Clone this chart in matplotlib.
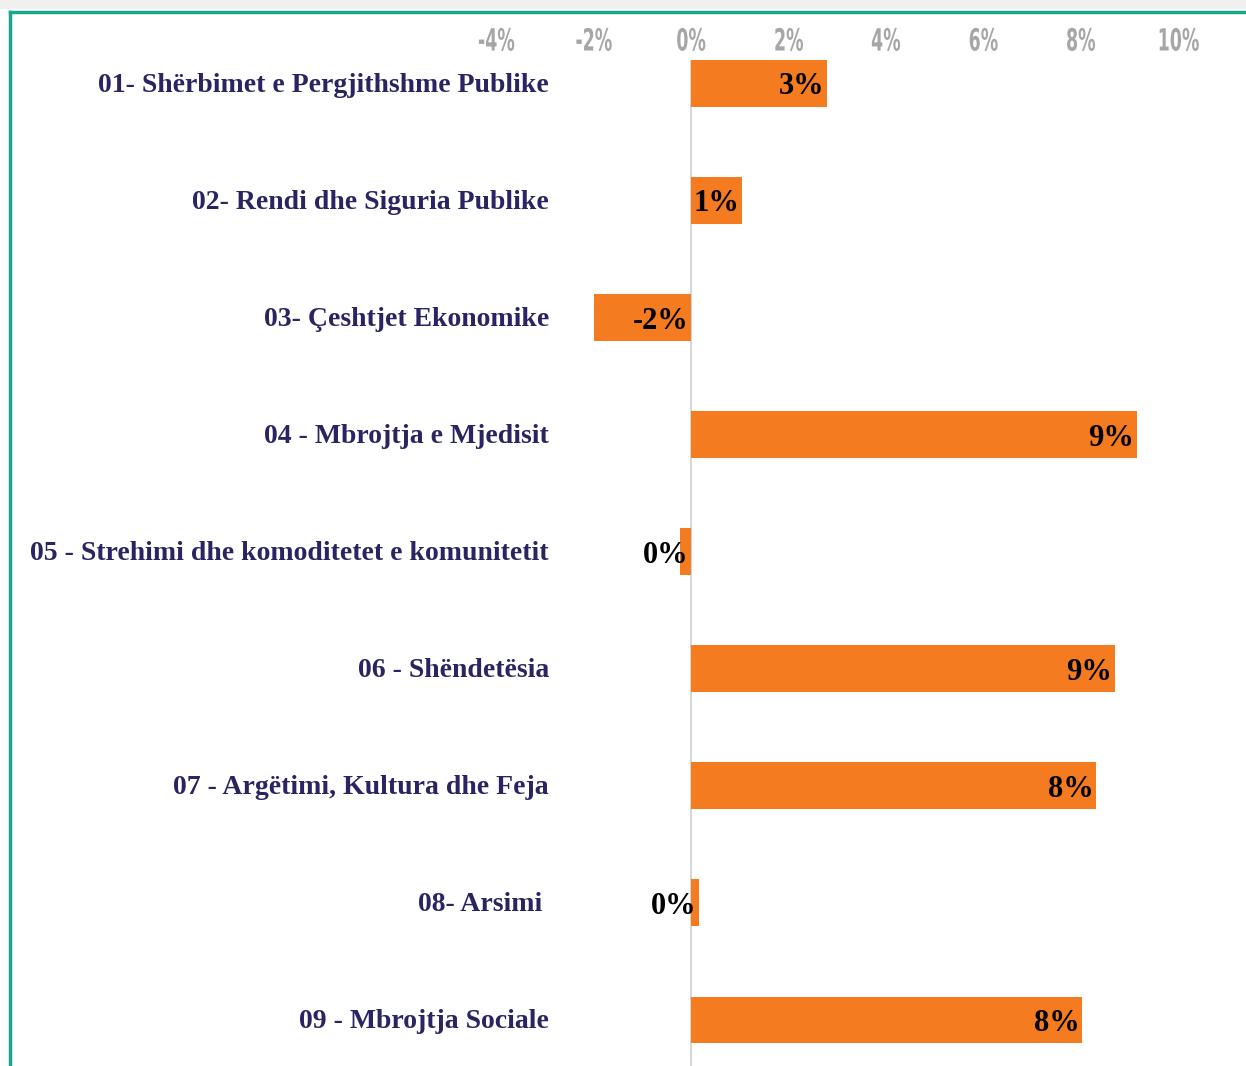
import matplotlib
matplotlib.use("Agg")
import matplotlib.pyplot as plt
import matplotlib.transforms as mtransforms
from matplotlib.lines import Line2D
from matplotlib.patches import Rectangle
from matplotlib.patheffects import AbstractPathEffect
from matplotlib.transforms import Affine2D

categories = [
    "01- Shërbimet e Pergjithshme Publike",
    "02- Rendi dhe Siguria Publike",
    "03- Çeshtjet Ekonomike",
    "04 - Mbrojtja e Mjedisit",
    "05 - Strehimi dhe komoditetet e komunitetit",
    "06 - Shëndetësia",
    "07 - Argëtimi, Kultura dhe Feja",
    "08- Arsimi ",
    "09 - Mbrojtja Sociale",
]
values = [2.8, 1.05, -2.0, 9.15, -0.22, 8.7, 8.32, 0.16, 8.03]
value_labels = ["3%", "1%", "-2%", "9%", "0%", "9%", "8%", "0%", "8%"]
xticks = [-4, -2, 0, 2, 4, 6, 8, 10]
xtick_labels = ["-4%", "-2%", "0%", "2%", "4%", "6%", "8%", "10%"]


class HScale(AbstractPathEffect):
    """Horizontally condense text around its centre."""
    def __init__(self, sx):
        super().__init__()
        self.sx = sx

    def draw_path(self, renderer, gc, tpath, affine, rgbFace=None):
        ext = tpath.transformed(affine).get_extents()
        cx = 0.5 * (ext.x0 + ext.x1)
        aff = affine + Affine2D().translate(-cx, 0).scale(self.sx, 1).translate(cx, 0)
        renderer.draw_path(gc, tpath, aff, rgbFace)


W, H = 1246, 1066
fig = plt.figure(figsize=(W / 100, H / 100), dpi=100)
fig.patch.set_facecolor("white")

xl, xr = -4.5, 11.0
ax_left = 691 - 4.5 * 48.7
ax_right = 691 + 11.0 * 48.7
ax_top = 60
ax = fig.add_axes([ax_left / W, 0, (ax_right - ax_left) / W, 1 - ax_top / H])
ax.set_xlim(xl, xr)
ax.set_ylim((H - 84) / 117.0, -0.2)

orange = "#F47B20"
navy = "#2A2462"
ypos = list(range(len(categories)))
ax.barh(ypos, values, height=0.4, color=orange, zorder=2)

for s in ax.spines.values():
    s.set_visible(False)
ax.axvline(0, color="#d0d0d0", lw=1.2, zorder=1)

ax.xaxis.tick_top()
ax.set_xticks(xticks)
ax.set_xticklabels(xtick_labels, fontsize=22, color="#a6a6a9",
                   family="DejaVu Sans", fontweight="bold")
for t in ax.get_xticklabels():
    t.set_path_effects([HScale(0.57)])
ax.tick_params(axis="x", length=0, pad=2.5)
ax.set_yticks([])

for y, v, lab in zip(ypos, values, value_labels):
    ax.text(max(v, 0) - 0.05, y + 0.03, lab, ha="right", va="center",
            fontsize=22, fontweight="bold", family="Liberation Serif",
            color="black", zorder=3)

trans = mtransforms.blended_transform_factory(fig.transFigure, ax.transData)
for y, c in zip(ypos, categories):
    ax.text(549 / W, y + 0.015, c, transform=trans, ha="right", va="center",
            fontsize=20, fontweight="bold", family="Liberation Serif",
            color=navy, clip_on=False)

teal = "#1AA58F"
fig.patches.append(Rectangle((0, 1 - 9 / H), 1, 9 / H, transform=fig.transFigure,
                             facecolor="#f0f0f0", edgecolor="none", zorder=0))
fig.lines.append(Line2D([10 / W, 1], [1 - 12 / H, 1 - 12 / H], transform=fig.transFigure,
                        color=teal, lw=2.5))
fig.lines.append(Line2D([10 / W, 10 / W], [0, 1 - 12 / H], transform=fig.transFigure,
                        color=teal, lw=2.5))

fig.savefig("out.png", dpi=100)
